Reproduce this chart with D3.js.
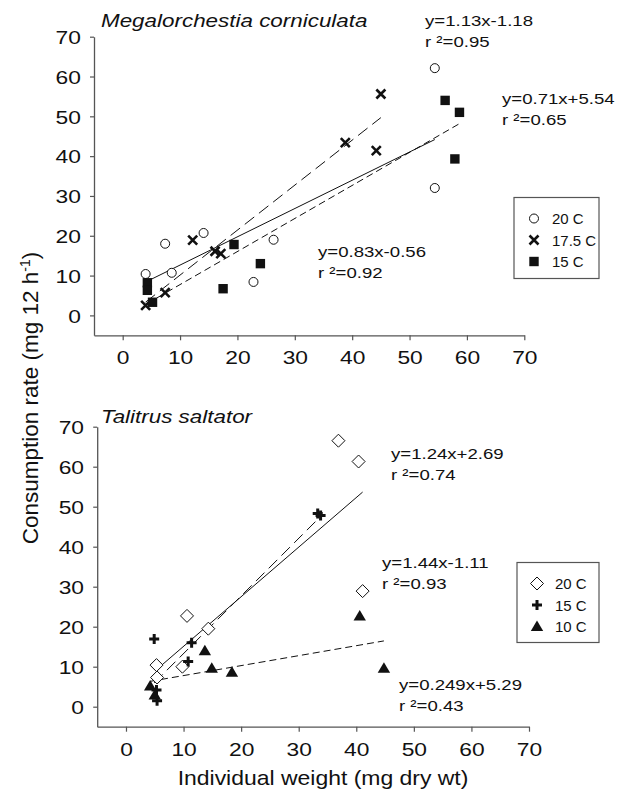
<!DOCTYPE html>
<html>
<head>
<meta charset="utf-8">
<script src="https://cdn.jsdelivr.net/npm/d3@7"></script>
<style>
  body { margin: 0; background: #fff; }
  svg { display: block; }
  text { font-family: "Liberation Sans", Arial, sans-serif; fill: #111; }
</style>
</head>
<body>
<div id="chart"></div>
<script>
const ticks = [0, 10, 20, 30, 40, 50, 60, 70];

// Megalorchestia corniculata
const megaX20 = [4.0, 7.4, 8.55, 14.1, 22.8, 26.3, 54.4, 54.4];
const megaY20 = [10.4, 18.0, 10.7, 20.7, 8.4, 19.0, 62.1, 32.0];
const megaX175 = [4.0, 7.4, 12.2, 16.1, 17.1, 38.8, 44.2, 45.0];
const megaY175 = [2.5, 5.7, 18.9, 16.1, 15.5, 43.4, 41.4, 55.6];
const megaX15 = [4.3, 4.3, 5.2, 17.5, 19.4, 24.0, 56.2, 57.9, 58.7];
const megaY15 = [8.2, 6.3, 3.3, 6.7, 17.8, 13.0, 54.0, 39.3, 51.0];
const megaFits = [[0.71, 5.54], [1.13, -1.18], [0.83, -0.56]]; // 20, 17.5, 15 C
const megaLegend = ["20 C", "17.5 C", "15 C"];
const megaEq = [["y=1.13x-1.18", "r \u00b2=0.95"], ["y=0.71x+5.54", "r \u00b2=0.65"], ["y=0.83x-0.56", "r \u00b2=0.92"]];

// Talitrus saltator
const taliX20 = [5.3, 5.4, 9.8, 10.6, 14.3, 36.9, 40.4, 41.1];
const taliY20 = [10.4, 7.3, 10.0, 22.7, 19.5, 66.5, 61.3, 28.9];
const taliX15 = [4.9, 5.3, 5.4, 10.8, 11.4, 33.3, 33.8];
const taliY15 = [16.9, 4.2, 1.5, 11.3, 16.0, 48.3, 47.8];
const taliX10 = [4.2, 5.0, 13.7, 14.9, 18.4, 40.6, 44.8];
const taliY10 = [5.2, 2.9, 14.0, 9.6, 8.6, 22.7, 9.6];
const taliFits = [[1.24, 2.69], [1.44, -1.11], [0.249, 5.29]]; // 20, 15, 10 C
const taliLegend = ["20 C", "15 C", "10 C"];
const taliEq = [["y=1.24x+2.69", "r \u00b2=0.74"], ["y=1.44x-1.11", "r \u00b2=0.93"], ["y=0.249x+5.29", "r \u00b2=0.43"]];

const W = 627, H = 792;
const svg = d3.select("#chart").append("svg").attr("width", W).attr("height", H);

// stretched text, like the original figure
function label(x, y, str, size, opts) {
  opts = opts || {};
  const t = svg.append("text")
    .attr("transform", `translate(${x},${y}) scale(${opts.sx || 1.2},1)`)
    .style("font-size", size + "px")
    .attr("text-anchor", opts.anchor || "start")
    .text(str);
  if (opts.italic) t.style("font-style", "italic");
  return t;
}

// marker drawers
const markers = {
  circle: (g) => g.append("circle").attr("r", 4.5).attr("fill", "#fff").attr("stroke", "#111").attr("stroke-width", 1),
  cross: (g) => g.append("path").attr("d", "M-4.5,-4.5L4.5,4.5M-4.5,4.5L4.5,-4.5").attr("stroke", "#111").attr("stroke-width", 2.6),
  square: (g) => g.append("rect").attr("x", -4.7).attr("y", -4.7).attr("width", 9.4).attr("height", 9.4).attr("fill", "#111"),
  diamond: (g) => g.append("path").attr("d", "M0,-6.5L6.5,0L0,6.5L-6.5,0Z").attr("fill", "#fff").attr("stroke", "#111").attr("stroke-width", 1),
  plus: (g) => g.append("path").attr("d", "M-5,0L5,0M0,-5L0,5").attr("stroke", "#111").attr("stroke-width", 3),
  triangle: (g) => g.append("path").attr("d", "M0,-6L6.2,4.5L-6.2,4.5Z").attr("fill", "#111")
};
const dashes = [null, "12,6", "7,4"];

function drawPanel(p) {
  const x = d3.scaleLinear().domain([-5, 70]).range([p.left, p.right]);
  const y = d3.scaleLinear().domain([-5, 70]).range([p.bottom, p.top]);

  const gx = svg.append("g").attr("transform", `translate(0,${p.bottom})`)
    .call(d3.axisBottom(x).tickValues(ticks).tickSize(5).tickSizeOuter(0).tickPadding(6));
  const gy = svg.append("g").attr("transform", `translate(${p.left},0)`)
    .call(d3.axisLeft(y).tickValues(ticks).tickSize(4).tickSizeOuter(0).tickPadding(7));
  [gx, gy].forEach(g => {
    g.select(".domain").attr("stroke", "#555").attr("stroke-width", 1.3);
    g.selectAll(".tick line").attr("stroke", "#555").attr("stroke-width", 1.2);
    g.selectAll("text").style("font-size", "19px")
      .style("font-family", '"Liberation Sans", Arial, sans-serif').attr("fill", "#111");
  });
  gx.selectAll("text").attr("transform", "scale(1.2,1)").attr("dy", "0.95em");
  gy.selectAll("text").attr("transform", "scale(1.2,1)").attr("dy", "0.36em");

  // regression lines
  p.series.forEach((s, i) => {
    const [m, b] = p.fits[i];
    const x0 = d3.min(s.xs), x1 = d3.max(s.xs);
    svg.append("line")
      .attr("x1", x(x0)).attr("y1", y(m * x0 + b))
      .attr("x2", x(x1)).attr("y2", y(m * x1 + b))
      .attr("stroke", "#111").attr("stroke-width", 1)
      .attr("stroke-dasharray", dashes[i]);
  });

  // points
  p.series.forEach(s => {
    s.xs.forEach((v, j) => {
      const g = svg.append("g").attr("transform", `translate(${x(v)},${y(s.ys[j])})`);
      markers[s.marker](g);
    });
  });

  // title
  label(p.titleX, p.titleY, p.title, 19, { italic: true, sx: 1.18 });

  // equations
  p.eqPos.forEach((pos, i) => {
    label(pos[0], pos[1], p.eq[i][0], 15.5);
    label(pos[0], pos[1] + 20.5, p.eq[i][1], 15.5);
  });

  // legend
  const lg = p.legend;
  svg.append("rect").attr("x", lg.x).attr("y", lg.y).attr("width", lg.w).attr("height", lg.h)
    .attr("fill", "#fff").attr("stroke", "#555").attr("stroke-width", 1.2);
  p.series.forEach((s, i) => {
    const ry = lg.y + 21 + i * 21.5;
    const g = svg.append("g").attr("transform", `translate(${lg.x + 20},${ry})`);
    markers[s.marker](g);
    label(lg.x + 38, ry + 5.5, p.labels[i], 15, { sx: 1.0 });
  });
}

drawPanel({
  left: 94, right: 524.3, top: 36.7, bottom: 335.3,
  series: [
    { xs: megaX20, ys: megaY20, marker: "circle" },
    { xs: megaX175, ys: megaY175, marker: "cross" },
    { xs: megaX15, ys: megaY15, marker: "square" }
  ],
  fits: megaFits, labels: megaLegend,
  title: "Megalorchestia corniculata", titleX: 101, titleY: 27,
  eq: megaEq, eqPos: [[425, 26], [502, 104], [318, 257]],
  legend: { x: 514, y: 197.5, w: 85, h: 81 }
});

drawPanel({
  left: 97.2, right: 529, top: 426.7, bottom: 726.7,
  series: [
    { xs: taliX20, ys: taliY20, marker: "diamond" },
    { xs: taliX15, ys: taliY15, marker: "plus" },
    { xs: taliX10, ys: taliY10, marker: "triangle" }
  ],
  fits: taliFits, labels: taliLegend,
  title: "Talitrus saltator", titleX: 101, titleY: 423,
  eq: taliEq, eqPos: [[391, 459], [382, 568], [399, 690]],
  legend: { x: 517, y: 562.5, w: 82, h: 80 }
});

// axis titles
label(323, 785, "Individual weight (mg dry wt)", 20.5, { anchor: "middle", sx: 1.12 });

const yt = svg.append("text")
  .attr("transform", "translate(38,398) rotate(-90)")
  .attr("text-anchor", "middle")
  .style("font-size", "22.5px");
yt.append("tspan").text("Consumption rate (mg 12 h");
yt.append("tspan").attr("dy", -8).style("font-size", "14px").text("-1");
yt.append("tspan").attr("dy", 8).text(")");
</script>
</body>
</html>
